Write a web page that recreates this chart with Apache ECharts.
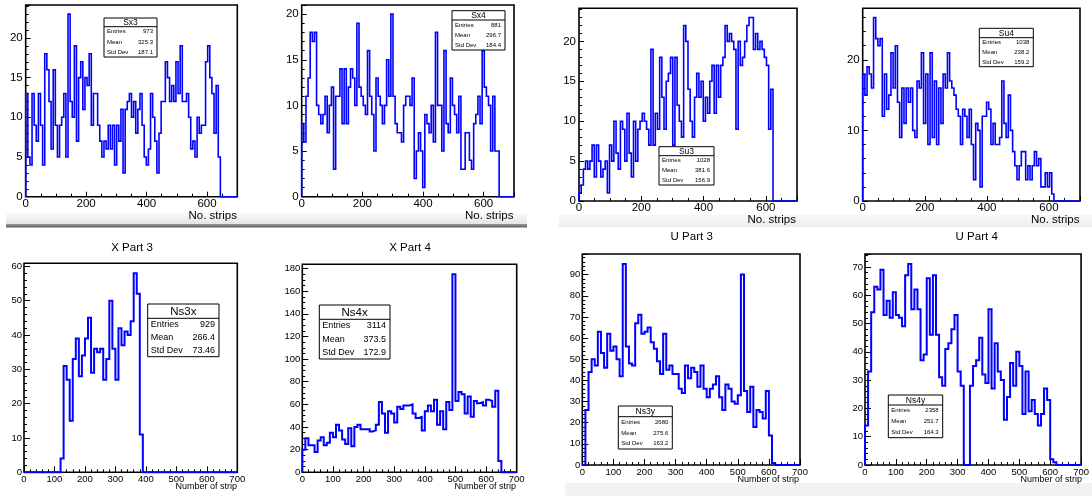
<!DOCTYPE html>
<html><head><meta charset="utf-8">
<script src="https://cdn.jsdelivr.net/npm/echarts@6/dist/echarts.min.js"></script>
<style>html,body{margin:0;padding:0;background:#fff}#c{width:1092px;height:496px}</style>
</head><body><div id="c"></div>
<script>
// ---------------- DATA ----------------
// top panels: 7-unit bins starting at 0 (100 bins over 0..700)
const sx3 = [13,5,4,13,9,7,13,9,4,18,16,12,6,16,9,5,9,10,13,5,23,12,10,19,7,15,17,11,15,14,18,9,13,13,9,7,5,7,6,9,6,9,4,9,7,11,3,11,12,13,10,12,8,11,13,9,5,4,6,13,10,7,3,8,12,12,17,15,12,14,12,17,13,19,12,12,13,10,6,7,5,10,8,9,9,17,19,15,13,8,14,5];
const sx4 = [8,6,11,13,18,17,18,10,9,8,9,11,7,10,12,3,11,11,14,8,14,8,12,14,13,10,19,12,11,10,9,16,11,9,5,13,11,10,8,10,15,11,20,11,8,7,7,6,10,11,11,10,13,2,5,7,5,1,9,8,7,10,6,18,10,10,5,16,8,7,13,10,9,7,11,3,3,7,7,4,3,8,9,11,8,16,12,11,10,5,11,5,5];
const su3 = [1,2,4,5,4,5,7,3,7,5,3,4,5,1,7,5,10,6,4,10,9,5,11,6,3,10,5,9,10,11,10,9,7,19,7,11,9,18,13,9,15,16,18,7,18,12,10,8,22,20,14,10,8,13,16,13,15,10,13,11,15,17,11,17,13,17,18,22,20,21,20,19,9,20,17,18,20,22,23,23,19,21,19,20,19,18,17,9,14];
const su4 = [18,15,19,18,16,26,23,22,23,12,18,13,15,21,16,22,14,9,16,11,16,14,16,10,9,17,16,21,11,18,8,21,9,17,8,16,11,18,16,21,17,16,15,13,12,8,13,12,9,13,8,3,11,10,2,12,12,14,13,8,11,8,8,9,17,11,9,15,10,7,5,3,5,7,7,3,5,3,5,7,5,6,2,2,4,2,4,1];
// bottom panels: 10-unit bins starting at 0 (70 bins over 0..700)
const ns3x = [0,0,0,0,0,0,0,0,0,0,0,0,4,31,27,15,33,39,28,34,39,45,29,36,35,36,27,33,50,36,27,42,37,41,40,44,58,52,11];
const ns4x = [20,30,24,24,18,28,31,24,26,35,31,42,37,29,25,39,23,40,42,38,38,38,36,37,42,62,52,35,54,52,44,58,56,59,59,60,52,48,49,37,54,59,54,64,42,54,38,62,55,175,63,71,69,52,67,49,63,61,62,59,64,63,58,72,10];
const ns3y = [0,26,44,50,47,63,53,46,62,54,56,50,42,95,56,48,47,67,71,62,63,65,58,55,49,43,62,45,47,43,43,36,34,47,41,46,44,37,47,36,32,36,38,42,32,26,38,36,30,29,33,90,35,25,37,18,26,25,22,35,14,1];
const ns4y = [14,33,54,63,62,69,53,58,52,61,53,52,49,67,71,55,62,55,37,39,66,46,67,46,31,28,41,43,48,53,33,28,0,0,28,35,37,45,32,29,55,27,43,33,30,16,24,36,28,40,35,18,33,19,23,18,14,18,27,23,2,1];

const binWidths = [7,7,7,7,10,10,10,10];
const statNames = ['Sx3','Sx4','Su3','Su4','Ns3x','Ns4x','Ns3y','Ns4y'];
const statLabels = ['Entries','Mean','Std Dev'];
const statEntries = ['973','881','1028','1038','929','3114','2680','2358'];
const statMeans = ['325.3','296.7','381.6','238.2','266.4','373.5','275.6','251.7'];
const statStd = ['187.1','184.4','156.9','159.2','73.46','172.9','163.2','164.3'];
const panelTitles = ['','','','','X Part 3','X Part 4','U Part 3','U Part 4'];
const xTitles = ['No. strips','No. strips','No. strips','No. strips','Number of strip','Number of strip','Number of strip','Number of strip'];
const yMax = [24.15,21,24.15,27.3,60.9,183.75,99.75,74.55];
const yInterval = [5,5,5,10,10,20,10,10];
const yMinorSplit = [5,5,5,5,5,4,5,5];
const xInterval = [200,200,200,200,100,100,100,100];
const xMinorSplit = [4,4,4,4,5,5,5,5];
const hists = [sx3,sx4,su3,su4,ns3x,ns4x,ns3y,ns4y];

// ---------------- LAYOUT ----------------
const grids = [
  {left:25.7, top:5, width:211.6, height:191.7},
  {left:301.7, top:5, width:212.3, height:191.7},
  {left:579, top:8.3, width:218, height:192.7},
  {left:862.7, top:8.3, width:217.3, height:192.7},
  {left:24, top:263.3, width:213.3, height:209},
  {left:302.3, top:264.3, width:214.4, height:208},
  {left:582.3, top:254, width:217.7, height:211},
  {left:865, top:254, width:218.3, height:211}
];
// stat boxes: x, y, w, h, separator y, title font, row font
const boxes = [
  [104, 18, 53, 39, 26.7, 8.5, 6],
  [452, 10.7, 53, 39.3, 20, 8.5, 6],
  [659, 146.7, 55, 38.3, 155.7, 8.5, 6],
  [979.3, 28.3, 54, 38.4, 37.7, 8.5, 6],
  [147.7, 304, 71.3, 52.7, 318.3, 11.5, 9],
  [319.3, 305, 70.7, 54, 319.3, 11.5, 9],
  [618.3, 406, 54, 43, 416.7, 8.5, 6],
  [888.3, 395, 54.4, 42.7, 405, 8.5, 6]
];
const xTitlePos = [[237,216],[513.5,216],[796,220],[1079.5,220],[237,487],[516,486.7],[799,479.3],[1082,479.3]];
const titlePos = [null,null,null,null,[132,248.3],[410,248.3],[691.7,237.3],[976.7,237.3]];
const FONT = '"Liberation Sans", Arial, Helvetica, sans-serif';

function steps(vals, w) {
  const n = Math.round(700 / w);
  const pts = [[0, 0]];
  for (let i = 0; i < n; i++) {
    const v = i < vals.length ? vals[i] : 0;
    pts.push([i * w, v], [(i + 1) * w, v]);
  }
  pts.push([700, 0]);
  return pts;
}

const option = {
  animation: false,
  backgroundColor: '#fff',
  grid: [], xAxis: [], yAxis: [], series: [], graphic: []
};

for (let i = 0; i < 8; i++) {
  const top = i < 4;
  option.grid.push(Object.assign({show: true, borderColor: '#000', borderWidth: 1.6, backgroundColor: 'transparent', containLabel: false}, grids[i]));
  option.xAxis.push({
    type: 'value', gridIndex: i, min: 0, max: 700, interval: xInterval[i],
    axisLine: {show: false},
    axisTick: {show: true, inside: true, length: top ? 5 : 6, lineStyle: {color: '#000', width: 1}},
    minorTick: {show: true, splitNumber: xMinorSplit[i], length: 3, lineStyle: {color: '#000', width: 1}},
    splitLine: {show: false},
    axisLabel: {color: '#000', fontFamily: FONT, fontSize: top ? 11.5 : 9.5, margin: top ? 1 : 2, showMaxLabel: top ? false : true}
  });
  option.yAxis.push({
    type: 'value', gridIndex: i, min: 0, max: yMax[i], interval: yInterval[i],
    axisLine: {show: false},
    axisTick: {show: true, inside: true, length: top ? 5 : 6, lineStyle: {color: '#000', width: 1}},
    minorTick: {show: true, splitNumber: yMinorSplit[i], length: 3, lineStyle: {color: '#000', width: 1}},
    splitLine: {show: false},
    axisLabel: {color: '#000', fontFamily: FONT, fontSize: top ? 11.5 : 9.5, margin: top ? 3 : 2, showMaxLabel: false}
  });
  option.series.push({
    type: 'line', xAxisIndex: i, yAxisIndex: i, data: steps(hists[i], binWidths[i]),
    symbol: 'none', showSymbol: false, clip: false, silent: true, z: 5,
    lineStyle: {color: '#0000ff', width: top ? 1.6 : 2, join: 'miter'}
  });
}

// background bands
option.graphic.push(
  {type: 'rect', z: -1, shape: {x: 6, y: 213, width: 521, height: 11},
   style: {fill: new echarts.graphic.LinearGradient(0, 0, 0, 1, [{offset: 0, color: '#fbfbfb'}, {offset: 1, color: '#e4e4e4'}])}},
  {type: 'rect', z: -1, shape: {x: 6, y: 224, width: 521, height: 3.5},
   style: {fill: new echarts.graphic.LinearGradient(0, 0, 0, 1, [{offset: 0, color: '#9a9a9a'}, {offset: 1, color: '#5e5e5e'}])}},
  {type: 'rect', z: -1, shape: {x: 559, y: 215, width: 533, height: 12},
   style: {fill: new echarts.graphic.LinearGradient(0, 0, 0, 1, [{offset: 0, color: '#f8f8f8'}, {offset: 1, color: '#ececec'}])}},
  {type: 'rect', z: -1, shape: {x: 565, y: 483, width: 527, height: 13}, style: {fill: '#f2f2f2'}}
);

for (let i = 0; i < 8; i++) {
  const [x, y, w, h, sep, tf, rf] = boxes[i];
  option.graphic.push(
    {type: 'rect', z: 20, shape: {x: x, y: y, width: w, height: h}, style: {fill: '#fff', stroke: '#000', lineWidth: 1}},
    {type: 'line', z: 21, shape: {x1: x, y1: sep, x2: x + w, y2: sep}, style: {stroke: '#000', lineWidth: 1}},
    {type: 'text', z: 21, x: x + w / 2, y: (y + sep) / 2 + 0.5,
     style: {text: statNames[i], fontFamily: FONT, fontSize: tf, fill: '#000', align: 'center', verticalAlign: 'middle'}}
  );
  const vals = [statEntries[i], statMeans[i], statStd[i]];
  for (let r = 0; r < 3; r++) {
    const cy = sep + (y + h - sep) * (r + 0.5) / 3;
    option.graphic.push(
      {type: 'text', z: 21, x: x + 3, y: cy,
       style: {text: statLabels[r], fontFamily: FONT, fontSize: rf, fill: '#000', align: 'left', verticalAlign: 'middle'}},
      {type: 'text', z: 21, x: x + w - 4, y: cy,
       style: {text: vals[r], fontFamily: FONT, fontSize: rf, fill: '#000', align: 'right', verticalAlign: 'middle'}}
    );
  }
  const top = i < 4;
  option.graphic.push({type: 'text', z: 21, x: xTitlePos[i][0], y: xTitlePos[i][1],
    style: {text: xTitles[i], fontFamily: FONT, fontSize: top ? 11.5 : 9, fill: '#000', align: 'right', verticalAlign: 'middle'}});
  if (titlePos[i]) {
    option.graphic.push({type: 'text', z: 21, x: titlePos[i][0], y: titlePos[i][1],
      style: {text: panelTitles[i], fontFamily: FONT, fontSize: 11.5, fill: '#000', align: 'center', verticalAlign: 'middle'}});
  }
}

const chart = echarts.init(document.getElementById('c'), null, {renderer: 'canvas'});
chart.setOption(option);
</script>
</body></html>
